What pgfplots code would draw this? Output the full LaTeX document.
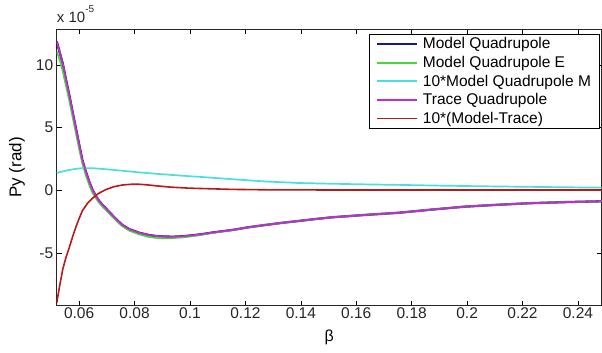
\documentclass[border=0pt]{standalone}
\usepackage{fontspec}
\setmainfont{Liberation Sans}
\usepackage{pgfplots}
\pgfplotsset{compat=1.18}

\definecolor{cnavy}{RGB}{25,25,130}
\definecolor{cgreen}{RGB}{70,215,60}
\definecolor{ccyan}{RGB}{75,222,222}
\definecolor{cpurple}{RGB}{195,45,205}
\definecolor{cred}{RGB}{185,25,25}

\begin{document}
\begin{tikzpicture}[x=1pt,y=1pt]
\useasboundingbox (0,0) rectangle (602,353);
\begin{axis}[
  at={(56.7pt,47.3pt)}, anchor=south west,
  scale only axis, width=544.8pt, height=276.7pt,
  xmin=0.0519, xmax=0.2485, ymin=-9.22, ymax=12.88,
  clip mode=individual,
  xtick={0.06,0.08,0.10,0.12,0.14,0.16,0.18,0.20,0.22,0.24},
  xticklabels={0.06,0.08,0.1,0.12,0.14,0.16,0.18,0.2,0.22,0.24},
  ytick={-5,0,5,10},
  yticklabels={-5,0,5,10},
  tick align=inside,
  major tick length=5pt,
  tick style={black, line width=0.6pt},
  axis line style={line width=0.8pt, black!85},
  ticklabel style={font=\fontsize{15.5}{18}\selectfont, text=black!85},
  xticklabel style={yshift=1.5pt},
  /pgf/number format/assume math mode=true,
  xlabel={β},
  ylabel={Py (rad)},
  every axis x label/.style={at={(axis description cs:0.5,-0.115)}, anchor=center, font=\fontsize{16}{18}\selectfont},
  every axis y label/.style={at={(axis description cs:-0.073,0.5)}, rotate=90, anchor=center, font=\fontsize{17}{19}\selectfont},
  legend cell align=left,
  legend image code/.code={\path (0pt,0pt) (50pt,0pt); \draw[#1,line width=1.8pt] (6.5pt,0pt) -- (46.5pt,0pt);},
  legend style={at={(0.997,0.982)}, anchor=north east, draw=black, line width=0.6pt,
    font=\fontsize{15.5}{18}\selectfont, inner sep=0.5pt, row sep=0pt,
    nodes={inner sep=1.1pt, text height=13pt, text depth=3.4pt}},
]
% Model Quadrupole
\addplot[cnavy, line width=2.3pt] coordinates {
(0.0519,11.9) (0.0530,11.0) (0.0541,10.1) (0.0552,8.9) (0.0564,7.64) (0.0576,6.3)
(0.0588,4.98) (0.0600,3.65) (0.0612,2.38) (0.0624,1.5) (0.0636,0.7) (0.0648,0.05)
(0.0660,-0.45) (0.0672,-0.85) (0.0684,-1.17) (0.0696,-1.44) (0.0720,-2.0) (0.0740,-2.45)
(0.0756,-2.77) (0.0780,-3.1) (0.0816,-3.39) (0.0850,-3.57) (0.0876,-3.65) (0.0910,-3.70)
(0.0940,-3.71) (0.0970,-3.68) (0.1000,-3.62) (0.1040,-3.52) (0.1080,-3.38) (0.1153,-3.17)
(0.1213,-2.95) (0.1273,-2.77) (0.1333,-2.6) (0.1393,-2.45) (0.1452,-2.3) (0.1512,-2.16)
(0.1632,-1.97) (0.1752,-1.8) (0.1870,-1.55) (0.1991,-1.31) (0.2110,-1.16) (0.2231,-1.03)
(0.2350,-0.95) (0.2485,-0.88)
};
\addlegendentry{Model Quadrupole}
% Model Quadrupole E
\addplot[cgreen, line width=1.7pt] coordinates {
(0.0519,11.1) (0.0530,10.4) (0.0541,9.5) (0.0552,8.4) (0.0564,7.2) (0.0576,5.9)
(0.0588,4.6) (0.0600,3.3) (0.0612,2.1) (0.0624,1.2) (0.0636,0.45) (0.0648,-0.2)
(0.0660,-0.62) (0.0672,-1.0) (0.0684,-1.3) (0.0696,-1.57) (0.0720,-2.12) (0.0740,-2.57)
(0.0756,-2.88) (0.0780,-3.22) (0.0816,-3.52) (0.0850,-3.72) (0.0876,-3.8) (0.0910,-3.84)
(0.0940,-3.82) (0.0970,-3.77) (0.1000,-3.7) (0.1040,-3.57) (0.1080,-3.41) (0.1153,-3.18)
(0.1213,-2.95) (0.1273,-2.77) (0.1333,-2.6) (0.1393,-2.45) (0.1452,-2.3) (0.1512,-2.16)
(0.1632,-1.97) (0.1752,-1.8) (0.1870,-1.55) (0.1991,-1.31) (0.2110,-1.16) (0.2231,-1.03)
(0.2350,-0.95) (0.2485,-0.88)
};
\addlegendentry{Model Quadrupole E}
% 10*Model Quadrupole M
\addplot[ccyan, line width=1.7pt] coordinates {
(0.0519,1.38) (0.0540,1.5) (0.0560,1.6) (0.0580,1.68) (0.0600,1.74) (0.0620,1.77)
(0.0650,1.76) (0.0696,1.68) (0.0750,1.57) (0.0816,1.43) (0.0876,1.32) (0.0936,1.22)
(0.1000,1.12) (0.1055,1.04) (0.1153,0.88) (0.1273,0.70) (0.1393,0.58) (0.1512,0.52)
(0.1632,0.47) (0.1752,0.43) (0.1900,0.37) (0.2050,0.32) (0.2200,0.28) (0.2350,0.24)
(0.2485,0.21)
};
\addlegendentry{10*Model Quadrupole M\hspace*{7pt}}
% Trace Quadrupole
\addplot[cpurple, line width=1.7pt] coordinates {
(0.0519,11.9) (0.0530,11.0) (0.0541,10.1) (0.0552,8.9) (0.0564,7.64) (0.0576,6.3)
(0.0588,4.98) (0.0600,3.65) (0.0612,2.38) (0.0624,1.5) (0.0636,0.7) (0.0648,0.05)
(0.0660,-0.45) (0.0672,-0.85) (0.0684,-1.17) (0.0696,-1.44) (0.0720,-2.0) (0.0740,-2.45)
(0.0756,-2.77) (0.0780,-3.1) (0.0816,-3.39) (0.0850,-3.57) (0.0876,-3.65) (0.0910,-3.70)
(0.0940,-3.71) (0.0970,-3.68) (0.1000,-3.62) (0.1040,-3.52) (0.1080,-3.38) (0.1153,-3.17)
(0.1213,-2.95) (0.1273,-2.77) (0.1333,-2.6) (0.1393,-2.45) (0.1452,-2.3) (0.1512,-2.16)
(0.1632,-1.97) (0.1752,-1.8) (0.1870,-1.55) (0.1991,-1.31) (0.2110,-1.16) (0.2231,-1.03)
(0.2350,-0.95) (0.2485,-0.88)
};
\addlegendentry{Trace Quadrupole}
% 10*(Model-Trace)
\addplot[cred, line width=1.6pt] coordinates {
(0.0519,-9.0) (0.0530,-7.6) (0.0541,-6.3) (0.0552,-5.4) (0.0564,-4.6) (0.0576,-3.75)
(0.0588,-2.95) (0.0600,-2.25) (0.0612,-1.62) (0.0630,-1.05) (0.0648,-0.64) (0.0670,-0.25)
(0.0696,0.05) (0.0725,0.28) (0.0756,0.42) (0.0790,0.48) (0.0816,0.48) (0.0850,0.42)
(0.0876,0.36) (0.0930,0.25) (0.0995,0.17) (0.1055,0.13) (0.1150,0.07) (0.1300,0.03)
(0.1600,0.02) (0.2000,0.02) (0.2485,0.02)
};
\addlegendentry{10*(Model-Trace)}
\node[anchor=base west, font=\fontsize{15}{17}\selectfont, text=black!85, inner sep=0pt]
  at (axis description cs:0,1.0217) {x 10\raisebox{10pt}{\fontsize{10}{12}\selectfont -5}};
\end{axis}
\end{tikzpicture}
\end{document}
